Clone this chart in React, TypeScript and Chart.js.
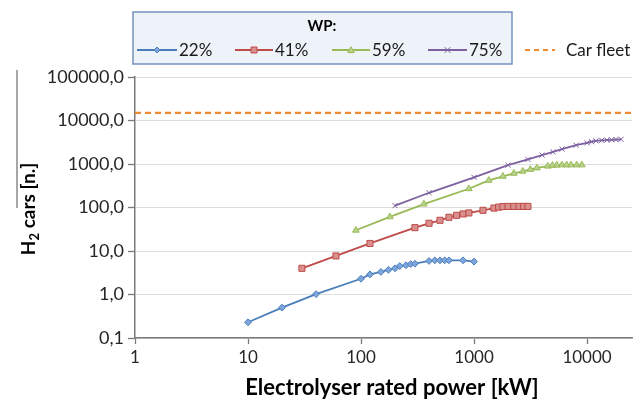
import React, { useEffect, useRef } from "react";
import { Chart, registerables } from "chart.js";

Chart.register(...registerables);

// ---- data ----
const xTickValues = [1, 10, 100, 1000, 10000];
const yTickValues = [0.1, 1, 10, 100, 1000, 10000, 100000];
const xMin = 1;
const xMax = 25000;
const yMin = 0.1;
const yMax = 100000;

const power22 = [10, 20, 40, 100, 120, 150, 175, 200, 220, 250, 275, 300, 400, 450, 500, 550, 600, 800, 1000];
const cars22 = [0.23, 0.5, 1.02, 2.3, 2.9, 3.3, 3.7, 4.0, 4.5, 4.7, 5.0, 5.1, 5.9, 6.1, 6.1, 6.1, 6.1, 6.1, 5.7];

const power41 = [30, 60, 120, 300, 400, 500, 600, 700, 800, 900, 1200, 1500, 1650, 1800, 2000, 2250, 2500, 2750, 3000];
const cars41 = [4.0, 7.7, 14.9, 34.4, 43.4, 50.8, 59.6, 66, 71, 75, 86, 97, 102, 105, 106, 106, 106, 106, 106];

const power59 = [90, 180, 360, 900, 1350, 1800, 2250, 2700, 3150, 3600, 4500, 4950, 5400, 6000, 6600, 7200, 8100, 9000];
const cars59 = [30, 61, 120, 270, 420, 520, 610, 680, 750, 810, 890, 930, 940, 950, 950, 950, 950, 950];

const power75 = [200, 400, 1000, 2000, 3000, 4000, 5000, 6000, 8000, 10000, 11000, 12000, 13500, 15000, 16500, 18000, 20000];
const cars75 = [110, 218, 493, 944, 1275, 1600, 1900, 2200, 2700, 3060, 3250, 3400, 3500, 3550, 3600, 3650, 3700];

const carFleet = 15000;

const seriesLabels = ["22%", "41%", "59%", "75%"];
const fleetLabel = "Car fleet";
const legendTitle = "WP:";
const xTitle = "Electrolyser rated power [kW]";
const yTitleMain = "H";
const yTitleSub = "2";
const yTitleRest = " cars [n.]";

// ---- styles ----
const FONT = "Lato, 'Open Sans', sans-serif";
const C_BLUE = "#4a7ebb";
const C_RED = "#be4b48";
const C_GREEN = "#98b954";
const C_PURPLE = "#7d60a0";
const C_ORANGE = "#f08a30";

const pairs = (xs: number[], ys: number[]) => xs.map((x, i) => ({ x, y: ys[i] }));

type MarkerKind = "diamond" | "square" | "triangle" | "cross";

function drawMarker(ctx: CanvasRenderingContext2D, kind: MarkerKind, x: number, y: number, r: number, stroke: string, fill: string) {
  ctx.save();
  ctx.strokeStyle = stroke;
  ctx.fillStyle = fill;
  ctx.lineWidth = 1;
  ctx.beginPath();
  if (kind === "diamond") {
    ctx.moveTo(x, y - r);
    ctx.lineTo(x + r, y);
    ctx.lineTo(x, y + r);
    ctx.lineTo(x - r, y);
    ctx.closePath();
    ctx.fill();
    ctx.stroke();
  } else if (kind === "square") {
    ctx.rect(x - r, y - r, 2 * r, 2 * r);
    ctx.fill();
    ctx.stroke();
  } else if (kind === "triangle") {
    ctx.moveTo(x, y - r);
    ctx.lineTo(x + r, y + r * 0.8);
    ctx.lineTo(x - r, y + r * 0.8);
    ctx.closePath();
    ctx.fill();
    ctx.stroke();
  } else {
    ctx.moveTo(x - r, y - r);
    ctx.lineTo(x + r, y + r);
    ctx.moveTo(x + r, y - r);
    ctx.lineTo(x - r, y + r);
    ctx.stroke();
  }
  ctx.restore();
}

const decorPlugin = {
  id: "decor",
  afterDraw(chart: any) {
    const ctx: CanvasRenderingContext2D = chart.ctx;
    const area = chart.chartArea;
    ctx.save();

    // stray frame line at left (present in reference picture)
    ctx.strokeStyle = "#8a8a8a";
    ctx.lineWidth = 1.5;
    ctx.beginPath();
    ctx.moveTo(17, 70);
    ctx.lineTo(17, 208);
    ctx.stroke();

    // legend box
    const bx = 133, by = 12, bw = 379, bh = 52;
    ctx.fillStyle = "#eef2f9";
    ctx.fillRect(bx, by, bw, bh);
    ctx.strokeStyle = "#7592bd";
    ctx.lineWidth = 1.5;
    ctx.strokeRect(bx, by, bw, bh);

    ctx.fillStyle = "#000";
    ctx.font = `bold 15px ${FONT}`;
    ctx.textAlign = "center";
    ctx.textBaseline = "middle";
    ctx.fillText(legendTitle, 322, 26);

    const rowY = 50;
    const items: { x0: number; x1: number; color: string; fill: string; kind: MarkerKind; r: number }[] = [
      { x0: 137, x1: 177, color: C_BLUE, fill: "#7ea6dc", kind: "diamond", r: 3 },
      { x0: 235, x1: 273, color: C_RED, fill: "#d98f8d", kind: "square", r: 3 },
      { x0: 332, x1: 370, color: C_GREEN, fill: "#b9d38f", kind: "triangle", r: 3.2 },
      { x0: 428, x1: 467, color: C_PURPLE, fill: C_PURPLE, kind: "cross", r: 2.8 },
    ];
    ctx.font = `17px ${FONT}`;
    ctx.textAlign = "left";
    items.forEach((it, i) => {
      ctx.strokeStyle = it.color;
      ctx.lineWidth = 2;
      ctx.beginPath();
      ctx.moveTo(it.x0, rowY);
      ctx.lineTo(it.x1, rowY);
      ctx.stroke();
      drawMarker(ctx, it.kind, (it.x0 + it.x1) / 2, rowY, it.r, it.color, it.fill);
      ctx.fillStyle = "#1a1a1a";
      ctx.fillText(seriesLabels[i], it.x1 + 2, rowY + 1);
    });

    // car fleet legend (outside box)
    ctx.strokeStyle = C_ORANGE;
    ctx.lineWidth = 2;
    ctx.setLineDash([5, 4]);
    ctx.beginPath();
    ctx.moveTo(525, rowY);
    ctx.lineTo(555, rowY);
    ctx.stroke();
    ctx.setLineDash([]);
    ctx.fillStyle = "#1a1a1a";
    ctx.fillText(fleetLabel, 566, rowY + 1);

    // x title
    ctx.fillStyle = "#000";
    ctx.font = `bold 22px ${FONT}`;
    ctx.textAlign = "center";
    ctx.textBaseline = "middle";
    ctx.fillText(xTitle, 392, 388);

    // y title (rotated, with subscript)
    ctx.translate(29, 209);
    ctx.rotate(-Math.PI / 2);
    const big = `bold 19px ${FONT}`;
    const small = `bold 13px ${FONT}`;
    ctx.font = big;
    const wH = ctx.measureText(yTitleMain).width;
    const wRest = ctx.measureText(yTitleRest).width;
    ctx.font = small;
    const wSub = ctx.measureText(yTitleSub).width;
    const total = wH + wSub + wRest;
    let cx = -total / 2;
    ctx.textAlign = "left";
    ctx.font = big;
    ctx.fillText(yTitleMain, cx, 0);
    cx += wH;
    ctx.font = small;
    ctx.fillText(yTitleSub, cx, 6);
    cx += wSub;
    ctx.font = big;
    ctx.fillText(yTitleRest, cx, 0);

    ctx.restore();
  },
};

export default function App() {
  const ref = useRef<HTMLCanvasElement | null>(null);

  useEffect(() => {
    if (!ref.current) return;
    const lineDs = (label: string, xs: number[], ys: number[], color: string, fill: string, style: string, radius: number) => ({
      label,
      data: pairs(xs, ys),
      borderColor: color,
      backgroundColor: fill,
      borderWidth: 1.8,
      pointStyle: style,
      pointRadius: radius,
      pointBorderColor: color,
      pointBackgroundColor: fill,
      pointBorderWidth: 1,
      showLine: true,
      tension: 0,
    });

    const chart = new Chart(ref.current, {
      type: "scatter",
      data: {
        datasets: [
          {
            label: fleetLabel,
            data: [
              { x: xMin, y: carFleet },
              { x: xMax, y: carFleet },
            ],
            borderColor: C_ORANGE,
            borderWidth: 2.2,
            borderDash: [6, 4],
            pointRadius: 0,
            showLine: true,
          } as any,
          lineDs(seriesLabels[0], power22, cars22, C_BLUE, "#7ea6dc", "rectRot", 3.4),
          lineDs(seriesLabels[1], power41, cars41, C_RED, "#d98f8d", "rect", 4.3),
          lineDs(seriesLabels[2], power59, cars59, C_GREEN, "#b9d38f", "triangle", 3.8),
          lineDs(seriesLabels[3], power75, cars75, C_PURPLE, C_PURPLE, "crossRot", 3.6),
        ],
      },
      options: {
        responsive: false,
        animation: false,
        layout: { padding: { left: 0, top: 77, right: 9, bottom: 0 } },
        plugins: {
          legend: { display: false },
          tooltip: { enabled: false },
        },
        scales: {
          x: {
            type: "logarithmic",
            min: xMin,
            max: xMax,
            afterBuildTicks: (axis: any) => {
              axis.ticks = xTickValues.map((v) => ({ value: v }));
            },
            afterFit: (axis: any) => {
              axis.height = 68;
            },
            ticks: {
              autoSkip: false,
              maxRotation: 0,
              padding: 3,
              color: "#262626",
              font: { family: FONT, size: 17 },
              callback: (v: any) => String(v),
            },
            grid: {
              drawOnChartArea: false,
              drawTicks: true,
              tickLength: 6,
              tickColor: "#7a7a7a",
              tickWidth: 1.3,
            },
            border: { display: true, color: "#7a7a7a", width: 1.5 },
          },
          y: {
            type: "logarithmic",
            min: yMin,
            max: yMax,
            afterBuildTicks: (axis: any) => {
              axis.ticks = yTickValues.map((v) => ({ value: v }));
            },
            afterFit: (axis: any) => {
              axis.width = 135;
            },
            ticks: {
              autoSkip: false,
              padding: 4,
              color: "#262626",
              font: { family: FONT, size: 18 },
              callback: (v: any) => Number(v).toFixed(1).replace(".", ","),
            },
            grid: {
              color: "#dedede",
              lineWidth: 1,
              drawTicks: true,
              tickLength: 7,
              tickColor: "#7a7a7a",
              tickWidth: 1.3,
            },
            border: { display: true, color: "#7a7a7a", width: 1.5 },
          },
        },
      } as any,
      plugins: [decorPlugin],
    });

    return () => chart.destroy();
  }, []);

  return (
    <div style={{ position: "fixed", left: 0, top: 0, width: 641, height: 406, background: "#fff" }}>
      <canvas ref={ref} width={641} height={406} style={{ display: "block" }} />
    </div>
  );
}
